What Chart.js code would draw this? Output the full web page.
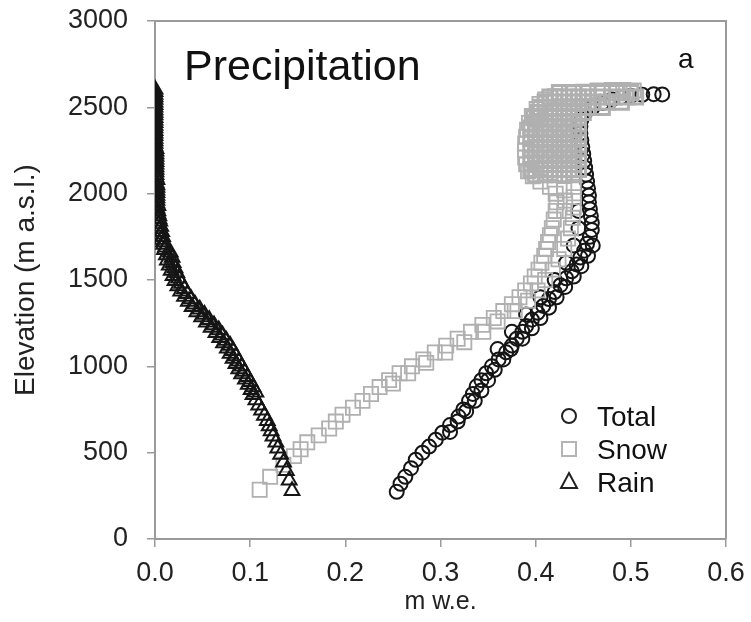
<!DOCTYPE html>
<html>
<head>
<meta charset="utf-8">
<script src="https://cdn.jsdelivr.net/npm/chart.js@4.4.0/dist/chart.umd.min.js"></script>
<style>
  html, body { margin: 0; padding: 0; background: #fff; }
</style>
</head>
<body>
<canvas id="myChart" width="751" height="622"></canvas>
<script>
// values: elevation (m a.s.l.) and precipitation (m w.e.)
const totalElev = [273, 320, 360, 410, 459, 500, 535, 575, 616, 660, 709, 750, 800, 840, 884, 920, 960, 1000,
  1040, 1081, 1120, 1160, 1200, 1233, 1270, 1310, 1350, 1390, 1430, 1470, 1510, 1550, 1590, 1630, 1670, 1710,
  1750, 1790, 1830, 1870, 1910, 1950, 1990, 2030, 2070, 2110, 2150, 2190, 2230, 2270, 2310, 2350, 2390,
  2430, 2470, 2500, 2525, 2545, 2558, 2567, 2573, 2576, 2575,
  1100, 1200, 1300, 1400, 1500, 1600, 1700, 1800, 1900,
  620, 680, 740, 800, 860, 920, 980, 1040, 1100, 1160, 1220, 1280, 1340, 1400, 1460, 1520, 1580, 1640, 1700];
const totalVals = [0.254, 0.258, 0.263, 0.269, 0.274, 0.281, 0.288, 0.295, 0.302, 0.310, 0.319, 0.324, 0.330, 0.334, 0.338, 0.343, 0.348, 0.354,
  0.361, 0.369, 0.375, 0.380, 0.386, 0.390, 0.396, 0.402, 0.408, 0.414, 0.420, 0.426, 0.432, 0.438, 0.443, 0.447, 0.451, 0.454,
  0.457, 0.459, 0.459, 0.458, 0.457, 0.456, 0.456, 0.455, 0.454, 0.453, 0.452, 0.451, 0.450, 0.449, 0.448, 0.447, 0.447,
  0.448, 0.452, 0.460, 0.470, 0.480, 0.490, 0.500, 0.512, 0.524, 0.533,
  0.360, 0.375, 0.390, 0.405, 0.420, 0.432, 0.440, 0.445, 0.445,
  0.310, 0.318, 0.327, 0.336, 0.343, 0.350, 0.357, 0.366, 0.374, 0.386, 0.396, 0.405, 0.414, 0.422, 0.431, 0.440, 0.448, 0.455, 0.460];

// snow, main chain from the lowest band up to the hook
const snowElev = [285, 360, 430, 480, 520, 560, 600, 640, 680, 720, 760, 800, 840, 880, 920, 960, 1000,
  1040, 1080, 1120, 1160, 1200, 1240, 1280, 1320, 1360, 1400, 1440, 1480, 1520, 1560, 1600, 1640, 1680,
  1720, 1760, 1800, 1850, 1900, 1950, 2000, 2040, 2070, 2100, 2130, 2170, 2210, 2250, 2290, 2330, 2370,
  2410, 2450, 2490, 2520, 2545, 2565, 2580, 2590, 2597, 2600, 2600, 2598,
  900, 960, 1020, 1080, 1140, 1200, 1260, 1320, 1380, 1440, 1500, 1560, 1620, 1680, 1740, 1800, 1860,
  1920, 1980, 2040, 1900, 1960, 2020];
const snowVals = [0.110, 0.121, 0.135, 0.146, 0.153, 0.160, 0.172, 0.183, 0.190, 0.197, 0.208, 0.218, 0.227, 0.236, 0.246, 0.257, 0.270,
  0.282, 0.294, 0.306, 0.318, 0.332, 0.344, 0.356, 0.366, 0.375, 0.383, 0.389, 0.395, 0.399, 0.403, 0.406, 0.409, 0.411,
  0.413, 0.415, 0.417, 0.419, 0.421, 0.422, 0.421, 0.415, 0.405, 0.397, 0.392, 0.390, 0.389, 0.389, 0.389, 0.390, 0.391,
  0.393, 0.396, 0.401, 0.404, 0.410, 0.420, 0.435, 0.450, 0.465, 0.480, 0.492, 0.503,
  0.250, 0.266, 0.285, 0.305, 0.325, 0.345, 0.360, 0.378, 0.392, 0.402, 0.410, 0.418, 0.424, 0.430, 0.434, 0.437, 0.439,
  0.440, 0.440, 0.440, 0.430, 0.431, 0.430];

// snow, the dense cluster of cells above 2100 m
const snowUpperElev = [
  2110, 2110, 2110, 2110, 2110,
  2140, 2140, 2140, 2140, 2140, 2140,
  2170, 2170, 2170, 2170, 2170,
  2200, 2200, 2200, 2200, 2200, 2200,
  2230, 2230, 2230, 2230, 2230,
  2260, 2260, 2260, 2260, 2260, 2260,
  2290, 2290, 2290, 2290, 2290,
  2320, 2320, 2320, 2320, 2320, 2320,
  2350, 2350, 2350, 2350, 2350,
  2380, 2380, 2380, 2380, 2380, 2380,
  2410, 2410, 2410, 2410, 2410,
  2440, 2440, 2440, 2440, 2440, 2440,
  2470, 2470, 2470, 2470, 2470, 2470,
  2500, 2500, 2500, 2500, 2500, 2500, 2500,
  2530, 2530, 2530, 2530, 2530, 2530, 2530, 2530,
  2560, 2560, 2560, 2560, 2560, 2560, 2560, 2560, 2560,
  2585, 2585, 2585, 2585, 2585, 2585];
const snowUpperVals = [
  0.400, 0.410, 0.420, 0.430, 0.440,
  0.395, 0.405, 0.415, 0.425, 0.435, 0.445,
  0.400, 0.410, 0.420, 0.430, 0.440,
  0.395, 0.405, 0.415, 0.425, 0.435, 0.445,
  0.400, 0.410, 0.420, 0.430, 0.440,
  0.395, 0.405, 0.415, 0.425, 0.435, 0.445,
  0.400, 0.410, 0.420, 0.430, 0.440,
  0.395, 0.405, 0.415, 0.425, 0.435, 0.445,
  0.400, 0.410, 0.420, 0.430, 0.440,
  0.395, 0.405, 0.415, 0.425, 0.435, 0.445,
  0.400, 0.410, 0.420, 0.430, 0.440,
  0.398, 0.405, 0.415, 0.425, 0.435, 0.445,
  0.402, 0.410, 0.420, 0.430, 0.440, 0.450,
  0.405, 0.415, 0.425, 0.435, 0.445, 0.455, 0.470,
  0.410, 0.420, 0.430, 0.440, 0.450, 0.460, 0.475, 0.490,
  0.415, 0.425, 0.435, 0.445, 0.455, 0.465, 0.480, 0.495, 0.505,
  0.425, 0.440, 0.455, 0.470, 0.485, 0.500];

const rainElev = [2605, 2575, 2545, 2515, 2485, 2455, 2425, 2395, 2365, 2335, 2305, 2275, 2245, 2215, 2185, 2155,
  2125, 2095, 2065, 2035, 2005, 1975, 1945, 1915, 1885, 1855, 1825, 1795, 1765, 1735, 1705, 1675, 1645, 1615,
  1585, 1555, 1525, 1495, 1465, 1435, 1405, 1375, 1345, 1315, 1285, 1255, 1225, 1195, 1165, 1135, 1105, 1075,
  1045, 1015, 985, 955, 925, 895, 865, 835, 805, 775, 745, 715, 685, 655, 625, 595, 560, 525, 490, 445, 395, 340, 280,
  2590, 2560, 2530, 2500, 2470, 2440, 2410, 2380, 2350, 2320, 2290, 2260, 2230, 2200, 2170, 2140, 2110, 2080,
  2050, 2020, 1990, 1960, 1930, 1900, 1870, 1840, 1810, 1780, 1750, 1720, 1690,
  1660, 1630, 1600, 1570, 1540, 1510, 1480, 1450, 1420, 1390, 1360, 1330, 1300, 1270, 1240, 1210, 1180, 1150,
  1120, 1090, 1060, 1030, 1000, 970, 940, 910, 880, 850];
const rainVals = [0, 0, 0, 0, 0, 0, 0, 0, 0, 0, 0, 0, 0.001, 0.001, 0.001, 0.001,
  0.001, 0.001, 0.001, 0.002, 0.002, 0.002, 0.002, 0.002, 0.003, 0.004, 0.004, 0.005, 0.006, 0.007, 0.009, 0.010, 0.012, 0.013,
  0.015, 0.017, 0.019, 0.021, 0.024, 0.027, 0.031, 0.035, 0.039, 0.044, 0.049, 0.054, 0.059, 0.064, 0.068, 0.072, 0.076, 0.079,
  0.082, 0.085, 0.088, 0.091, 0.095, 0.098, 0.101, 0.103, 0.106, 0.109, 0.112, 0.115, 0.118, 0.120, 0.122, 0.124, 0.127, 0.129, 0.132, 0.135, 0.138, 0.141, 0.144,
  0, 0, 0, 0, 0, 0, 0, 0, 0, 0, 0, 0.001, 0.001, 0.001, 0.001, 0.001, 0.001, 0.002,
  0.002, 0.002, 0.002, 0.002, 0.003, 0.003, 0.004, 0.005, 0.006, 0.007, 0.008, 0.009, 0.011,
  0.016, 0.018, 0.019, 0.021, 0.023, 0.025, 0.028, 0.031, 0.034, 0.038, 0.042, 0.047, 0.052, 0.057, 0.062, 0.067, 0.071, 0.075,
  0.079, 0.082, 0.085, 0.088, 0.091, 0.094, 0.097, 0.100, 0.103, 0.106];

const legendLabels = ['Total', 'Snow', 'Rain'];
const panelTitle = 'Precipitation';
const panelLetter = 'a';
const xTitle = 'm w.e.';
const yTitle = 'Elevation (m a.s.l.)';

const FONT = '"Liberation Sans", Arial, sans-serif';

function toPoints(vals, elev) {
  return vals.map((v, i) => ({ x: v, y: elev[i] }));
}

// frame, panel title and legend drawn inside the plot
const panelPlugin = {
  id: 'panel',
  afterDraw(chart) {
    const ctx = chart.ctx;
    const a = chart.chartArea;
    ctx.save();
    ctx.strokeStyle = '#9a9a9a';
    ctx.lineWidth = 2;
    ctx.beginPath();
    ctx.moveTo(a.left, a.top);
    ctx.lineTo(a.right, a.top);
    ctx.lineTo(a.right, a.bottom);
    ctx.stroke();

    ctx.fillStyle = '#111';
    ctx.textBaseline = 'alphabetic';
    ctx.font = '43px ' + FONT;
    ctx.fillText(panelTitle, 184, 80);
    ctx.font = '28px ' + FONT;
    ctx.fillText(panelLetter, 678, 68);

    // legend
    ctx.font = '28px ' + FONT;
    legendLabels.forEach(function (lab, i) {
      const cx = 569, cy = 416 + i * 33;
      ctx.beginPath();
      if (i == 0) {
        ctx.strokeStyle = '#222';
        ctx.lineWidth = 2;
        ctx.arc(cx, cy, 7, 0, Math.PI * 2);
      } else if (i == 1) {
        ctx.strokeStyle = '#b4b4b4';
        ctx.lineWidth = 2;
        ctx.rect(cx - 7, cy - 7, 14, 14);
      } else {
        ctx.strokeStyle = '#222';
        ctx.lineWidth = 2;
        ctx.moveTo(cx, cy - 9);
        ctx.lineTo(cx + 8, cy + 6);
        ctx.lineTo(cx - 8, cy + 6);
        ctx.closePath();
      }
      ctx.stroke();
      ctx.fillStyle = '#111';
      ctx.fillText(lab, 597, cy + 10);
    });
    ctx.restore();
  }
};

const ctx = document.getElementById('myChart').getContext('2d');

const data = {
  datasets: [
    {
      label: 'Rain',
      data: toPoints(rainVals, rainElev),
      pointStyle: 'triangle',
      pointRadius: 8.5,
      pointBorderWidth: 2,
      borderColor: '#151515',
      backgroundColor: 'rgba(0,0,0,0)'
    },
    {
      label: 'Snow',
      data: toPoints(snowVals, snowElev).concat(toPoints(snowUpperVals, snowUpperElev)),
      pointStyle: 'rect',
      pointRadius: 10,
      // the overlapping upper cluster reads as a near solid grey patch
      pointBorderWidth: function (c) { return c.dataIndex >= snowElev.length ? 3 : 1.8; },
      borderColor: '#b0b0b0',
      backgroundColor: 'rgba(0,0,0,0)'
    },
    {
      label: 'Total',
      data: toPoints(totalVals, totalElev),
      pointStyle: 'circle',
      pointRadius: 7,
      pointBorderWidth: 2,
      borderColor: '#151515',
      backgroundColor: 'rgba(0,0,0,0)'
    }
  ]
};

const options = {
  responsive: false,
  animation: false,
  layout: { padding: { top: 21, right: 25, left: 0, bottom: 0 } },
  plugins: {
    legend: { display: false },
    tooltip: { enabled: false }
  },
  scales: {
    x: {
      type: 'linear',
      min: 0,
      max: 0.6,
      afterFit: function (s) { s.height = 83; s.paddingLeft = 0; s.paddingRight = 0; },
      ticks: {
        stepSize: 0.1,
        padding: 10,
        color: '#222',
        font: { family: FONT, size: 27 },
        callback: function (v) { return v.toFixed(1); }
      },
      grid: { drawOnChartArea: false, tickLength: 8, color: '#9a9a9a', lineWidth: 1.5 },
      border: { display: true, color: '#9a9a9a', width: 2 },
      title: {
        display: true,
        text: xTitle,
        color: '#222',
        font: { family: FONT, size: 25 },
        padding: { top: 0, bottom: 5 }
      }
    },
    y: {
      type: 'linear',
      min: 0,
      max: 3000,
      afterFit: function (s) { s.width = 155; s.paddingTop = 0; s.paddingBottom = 0; },
      ticks: {
        stepSize: 500,
        padding: 19,
        color: '#222',
        font: { family: FONT, size: 27 },
        callback: function (v) { return String(v); }
      },
      grid: { drawOnChartArea: false, tickLength: 8, color: '#9a9a9a', lineWidth: 1.5 },
      border: { display: true, color: '#9a9a9a', width: 2 },
      title: {
        display: true,
        text: yTitle,
        color: '#222',
        font: { family: FONT, size: 28 },
        padding: { top: 9, bottom: 0 }
      }
    }
  }
};

const myChart = new Chart(ctx, {
  type: 'scatter',
  data: data,
  options: options,
  plugins: [panelPlugin]
});
</script>
</body>
</html>
